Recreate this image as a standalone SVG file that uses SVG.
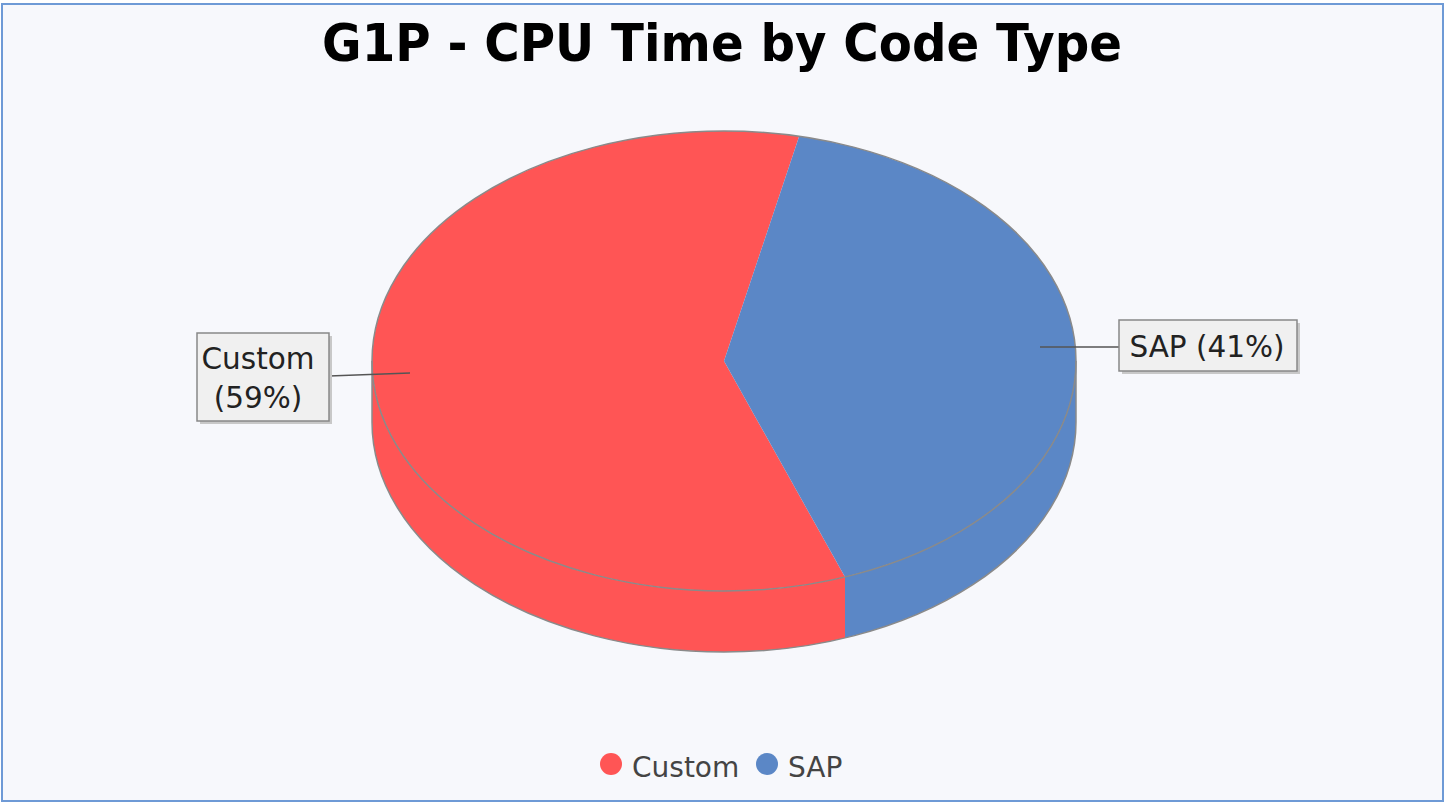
<svg xmlns="http://www.w3.org/2000/svg" width="1447" height="803" viewBox="0 0 1447 803">
  <style>
    .lbl { font-family: "DejaVu Sans", Verdana, sans-serif; font-size: 29.5px; fill: #222; }
    .leg { font-family: "DejaVu Sans", Verdana, sans-serif; font-size: 28px; fill: #444; }
    .box { fill: #F0F0F0; stroke: #888; stroke-width: 1.5; }
    .shadow { fill: #C8C8C8; }
    .edge { fill: none; stroke: #8A8A8A; stroke-width: 1.5; }
    .conn { stroke: #555; stroke-width: 1.5; fill: none; }
  </style>
  <rect x="2" y="4" width="1441" height="797" fill="#F7F8FC" stroke="#6E9AD6" stroke-width="2"/>
  <text x="722" y="61" text-anchor="middle" font-family="DejaVu Sans, Verdana, sans-serif" font-weight="bold" font-size="51" textLength="800" lengthAdjust="spacingAndGlyphs" fill="#000">G1P - CPU Time by Code Type</text>

  <g id="pie">
    <g id="custom">
      <path d="M372,361 L372,422 A352 230 0 0 0 845,638 L845,577 A352 230 0 0 1 372,361 Z" fill="#FF5555"/>
      <path d="M724,361 L799.2,136.3 A352 230 0 1 0 845,577 Z" fill="#FF5555"/>
    </g>
    <g id="sap">
      <path d="M845,577 L845,638 A352 230 0 0 0 1076,422 L1076,361 A352 230 0 0 1 845,577 Z" fill="#5B87C6"/>
      <path d="M724,361 L799.2,136.3 A352 230 0 0 1 845,577 Z" fill="#5B87C6"/>
    </g>
    <ellipse class="edge" cx="724" cy="361" rx="352" ry="230"/>
    <path class="edge" d="M372,361 L372,422 A352 230 0 0 0 1076,422 L1076,361"/>
  </g>

  <g id="connectors">
    <path class="conn" d="M329,376 L410,373"/>
    <path class="conn" d="M1040,347 L1119,347"/>
  </g>

  <g id="label-custom">
    <rect class="shadow" x="200" y="336" width="132" height="88"/>
    <rect class="box" x="197" y="333" width="132" height="88"/>
    <text class="lbl" x="258" y="369" text-anchor="middle">Custom</text>
    <text class="lbl" x="258" y="408" text-anchor="middle">(59%)</text>
  </g>
  <g id="label-sap">
    <rect class="shadow" x="1122" y="323" width="178" height="51"/>
    <rect class="box" x="1119" y="320" width="178" height="51"/>
    <text class="lbl" x="1207" y="357" text-anchor="middle">SAP (41%)</text>
  </g>

  <g id="legend">
    <circle cx="611" cy="764" r="11" fill="#FF5555"/>
    <text class="leg" x="632" y="777">Custom</text>
    <circle cx="767" cy="764" r="11" fill="#5B87C6"/>
    <text class="leg" x="788" y="777">SAP</text>
  </g>
</svg>
